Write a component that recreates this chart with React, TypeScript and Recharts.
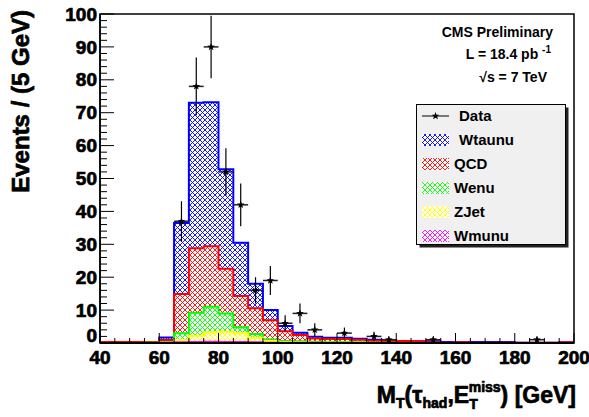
import { ComposedChart, Area, Scatter, ErrorBar, XAxis, YAxis, ReferenceArea } from 'recharts'

// bin low edges, 5 GeV bins
const binEdges = [40, 45, 50, 55, 60, 65, 70, 75, 80, 85, 90, 95, 100, 105, 110, 115, 120, 125, 130, 135, 140, 145, 150, 155, 160, 165, 170, 175, 180, 185, 190, 195]

// per-process expected events per bin
const wmunu = [0, 0, 0, 0, 0.05, 0.2, 0.3, 0.4, 0.3, 0.3, 0.2, 0.1, 0.1, 0.1, 0.05, 0, 0, 0, 0, 0, 0, 0, 0, 0, 0, 0, 0, 0, 0, 0, 0, 0]
const zjet = [0, 0, 0, 0, 0.05, 0.6, 1.9, 2.9, 3.1, 2.7, 1.4, 0.5, 0.2, 0.1, 0.05, 0.1, 0.05, 0.05, 0, 0, 0, 0, 0, 0, 0, 0, 0, 0, 0, 0, 0, 0]
const wenu = [0, 0, 0, 0.05, 0.2, 2.2, 7.0, 7.7, 5.6, 1.8, 1.1, 0.5, 0.3, 0.3, 0.3, 0.2, 0.25, 0.15, 0.1, 0.1, 0, 0, 0, 0, 0, 0, 0, 0, 0, 0, 0, 0]
const qcd = [0.3, 0.3, 0.3, 0.25, 0.6, 11.9, 19.6, 18.4, 13.6, 9.5, 7.9, 5.8, 3.0, 1.9, 1.0, 0.9, 0.9, 0.8, 0.6, 0.5, 0.6, 0.5, 0.25, 0.1, 0.2, 0.05, 0.05, 0.05, 0.05, 0.05, 0.05, 0.2]
const wtaunu = [0, 0, 0, 0, 0.8, 21.6, 44.2, 43.8, 30.2, 16.2, 7.4, 3.1, 1.6, 0.7, 0.5, 0.4, 0.4, 0.3, 0.3, 0.2, 0, 0, 0.25, 0.2, 0.1, 0.25, 0.25, 0.25, 0.05, 0.05, 0.05, 0]

// observed data
const dataX = [67.5, 72.5, 77.5, 82.5, 87.5, 92.5, 97.5, 102.5, 107.5, 112.5, 122.5, 132.5, 137.5, 152.5, 187.5]
const dataCounts = [37, 78, 90, 52, 42, 16, 19, 6, 9, 4, 3, 2, 1, 1, 1]
const dataErrors = [6.1, 8.8, 9.5, 7.2, 6.5, 4.0, 4.4, 2.4, 3.0, 2.0, 1.7, 1.4, 1.0, 1.0, 1.0]

const xLabels = [40, 60, 80, 100, 120, 140, 160, 180, 200]
const yLabels = [0, 10, 20, 30, 40, 50, 60, 70, 80, 90, 100]
const xTicks = Array.from({ length: 33 }, (_, i) => 40 + i * 5)
const yTicks = Array.from({ length: 51 }, (_, i) => i * 2)

const FONT = "'Liberation Sans', Arial, Helvetica, sans-serif"

// bottom -> top of the stack
const layers = [
  { key: 'wmunu', name: 'Wmunu', color: '#ff00ff', values: wmunu },
  { key: 'zjet', name: 'ZJet', color: '#ffff00', values: zjet },
  { key: 'wenu', name: 'Wenu', color: '#00ff00', values: wenu },
  { key: 'qcd', name: 'QCD', color: '#ff0000', values: qcd },
  { key: 'wtaunu', name: 'Wtaunu', color: '#0000ff', values: wtaunu },
]

const stackRows = binEdges.concat([200]).map((x, i) => {
  const k = Math.min(i, binEdges.length - 1)
  const row: Record<string, number> = { x }
  let sum = 0
  layers.forEach((l) => {
    sum += l.values[k]
    row[l.key] = sum
  })
  return row
})

const points = dataX.map((x, i) => ({ x, y: dataCounts[i], ex: 2.5, ey: dataErrors[i] }))

function starPoints(cx: number, cy: number, r: number) {
  const pts: string[] = []
  for (let i = 0; i < 10; i++) {
    const rad = i % 2 === 0 ? r : r * 0.42
    const a = -Math.PI / 2 + (i * Math.PI) / 5
    pts.push(`${cx + rad * Math.cos(a)},${cy + rad * Math.sin(a)}`)
  }
  return pts.join(' ')
}

const Star = (props: any) => {
  const { cx, cy } = props
  if (cx == null || cy == null) return null
  return <polygon points={starPoints(cx, cy, 4)} fill="#000" />
}

const heavy = { fontWeight: 'bold' as const, fill: '#000', stroke: '#000', strokeWidth: 0.7 }

const XTick = (props: any) => {
  const { x, y, payload } = props
  const v = payload.value
  const major = xLabels.includes(v)
  return (
    <g>
      <line x1={x} y1={y} x2={x} y2={y - (major ? 10 : 5)} stroke="#000" strokeWidth={1} />
      {major && (
        <text x={x} y={y + 21} textAnchor="middle" fontSize={19} fontFamily={FONT} {...heavy}>
          {v}
        </text>
      )}
    </g>
  )
}

const YTick = (props: any) => {
  const { x, y, payload } = props
  const v = payload.value
  const major = yLabels.includes(v)
  return (
    <g>
      <line x1={x} y1={y} x2={x + (major ? 14 : 7)} y2={y} stroke="#000" strokeWidth={1} />
      {major && (
        <text x={x - 3} y={v === 0 ? y - 8 : y} dy="0.35em" textAnchor="end" fontSize={19} fontFamily={FONT} {...heavy}>
          {v}
        </text>
      )}
    </g>
  )
}

function Hatch({ id, color }: { id: string; color: string }) {
  return (
    <pattern id={id} patternUnits="userSpaceOnUse" width={5} height={5}>
      <rect width={5} height={5} fill="#fff" />
      <path d="M0,0 L5,5 M5,0 L0,5" stroke={color} strokeWidth={0.9} />
    </pattern>
  )
}

export default function App() {
  const legendRows = [{ key: 'data', name: 'Data', color: '#000' }].concat(
    [...layers].reverse().map((l) => ({ key: l.key, name: l.name, color: l.color }))
  )
  return (
    <div style={{ position: 'absolute', left: 0, top: 0, width: 589, height: 417, background: '#fff', fontFamily: FONT }}>
      <svg width={0} height={0} style={{ position: 'absolute' }}>
        <defs>
          {layers.map((l) => (
            <Hatch key={l.key} id={`hatch-${l.key}`} color={l.color} />
          ))}
        </defs>
      </svg>
      <ComposedChart width={589} height={417} data={stackRows} margin={{ top: 14, right: 15, bottom: 73, left: 99 }}>
        {[...layers].reverse().map((l) => (
          <Area
            key={l.key}
            type="stepAfter"
            dataKey={l.key}
            stroke={l.color}
            strokeWidth={2}
            fill={`url(#hatch-${l.key})`}
            fillOpacity={1}
            dot={false}
            activeDot={false}
            isAnimationActive={false}
          />
        ))}
        <Scatter data={points} dataKey="y" shape={<Star />} isAnimationActive={false}>
          <ErrorBar dataKey="ey" direction="y" width={0} stroke="#000" strokeWidth={1.2} />
          <ErrorBar dataKey="ex" direction="x" width={0} stroke="#222" strokeWidth={1.5} />
        </Scatter>
        <ReferenceArea x1={40} x2={200} y1={0} y2={100} fill="none" stroke="#000" strokeWidth={1.5} />
        <XAxis
          type="number"
          dataKey="x"
          domain={[40, 200]}
          ticks={xTicks}
          interval={0}
          height={1}
          tickSize={0}
          tickMargin={0}
          tick={<XTick />}
          axisLine={{ stroke: '#000', strokeWidth: 2 }}
          tickLine={false}
          allowDataOverflow
        />
        <YAxis
          type="number"
          domain={[0, 100]}
          ticks={yTicks}
          interval={0}
          width={1}
          tickSize={0}
          tickMargin={0}
          tick={<YTick />}
          axisLine={{ stroke: '#000', strokeWidth: 1.5 }}
          tickLine={false}
          allowDataOverflow
        />
      </ComposedChart>

      <svg width={589} height={417} style={{ position: 'absolute', left: 0, top: 0, pointerEvents: 'none' }} fontFamily={FONT}>
        <text x={29} y={10} transform="rotate(-90 29 10)" textAnchor="end" fontSize={24} {...heavy}>
          Events / (5 GeV)
        </text>

        <text x={576} y={403} textAnchor="end" fontSize={23} {...heavy}>
          M<tspan fontSize={14} dy={5}>T</tspan>
          <tspan dy={-5}>(τ</tspan>
          <tspan fontSize={14} dy={5}>had</tspan>
          <tspan dy={-5}>,E</tspan>
          <tspan fontSize={14} dy={6}>T</tspan>
          <tspan fontSize={14} dx={-9} dy={-17}>miss</tspan>
          <tspan dy={11}>) [GeV]</tspan>
        </text>

        <text x={553} y={37} textAnchor="end" fontSize={14} fontWeight="bold" fill="#000">
          CMS Preliminary
        </text>
        <text x={551} y={59} textAnchor="end" fontSize={14} fontWeight="bold" fill="#000">
          L = 18.4 pb <tspan fontSize={10} dy={-6}>-1</tspan>
        </text>
        <text x={547} y={82} textAnchor="end" fontSize={14} fontWeight="bold" fill="#000">
          √s = 7 TeV
        </text>

        <rect x={419.5} y={107.5} width={149} height={140} fill="#222" />
        <rect x={416.5} y={104.5} width={149} height={140} fill="#f0f0f0" stroke="#000" strokeWidth={1} />
        {legendRows.map((r, i) => {
          const cy = 116 + i * 24
          const isData = r.key === 'data'
          return (
            <g key={r.key}>
              {isData ? (
                <>
                  <line x1={422} y1={cy} x2={449} y2={cy} stroke="#000" strokeWidth={1} />
                  <polygon points={starPoints(435.5, cy, 4)} fill="#000" />
                </>
              ) : (
                <rect x={422} y={cy - 6} width={27} height={12} fill={`url(#hatch-${r.key})`} />
              )}
              <text
                x={isData || r.key === 'wtaunu' ? 459 : 454}
                y={cy}
                dy="0.36em"
                fontSize={15}
                fontWeight="bold"
                fill="#000"
              >
                {r.name}
              </text>
            </g>
          )
        })}
      </svg>
    </div>
  )
}
